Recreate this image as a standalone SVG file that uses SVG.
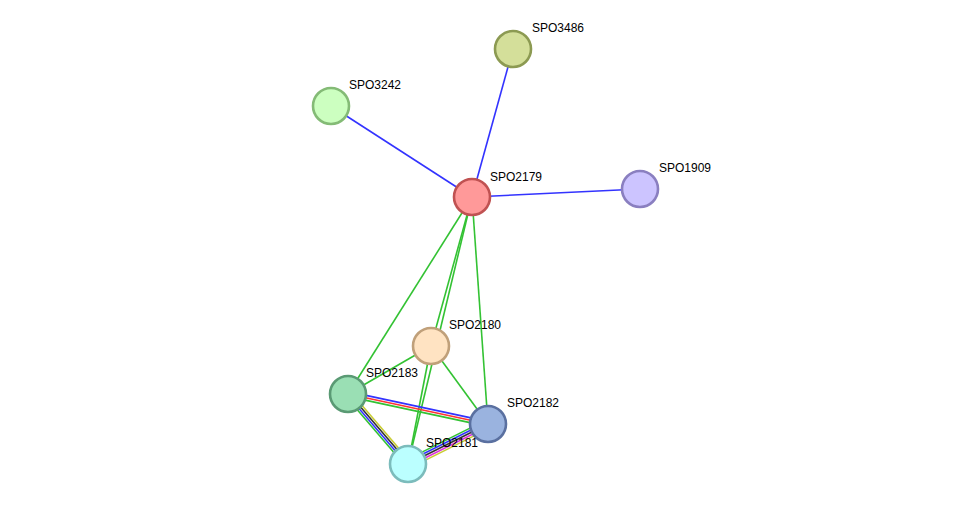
<svg xmlns="http://www.w3.org/2000/svg" width="976" height="510" viewBox="0 0 976 510">
<style>
.e{fill:none;stroke-width:1.6}
.g{stroke:#33c233}.b{stroke:#3333ff}.r{stroke:#ff3333}.k{stroke:#333333}.y{stroke:#c8cc33}.m{stroke:#dd33dd}
.n circle{stroke-width:2.6}
.n text{font-family:"Liberation Sans",Arial,sans-serif;font-size:12px;fill:#000}
</style>
<rect width="976" height="510" fill="#ffffff"/>
<g id="edges">
<line class="e b" x1="472" y1="197" x2="513" y2="49"/>
<line class="e b" x1="472" y1="197" x2="331" y2="106"/>
<line class="e b" x1="472" y1="197" x2="640" y2="189"/>
<line class="e g" x1="472" y1="197" x2="348" y2="394"/>
<line class="e g" x1="472" y1="197" x2="431" y2="346"/>
<line class="e g" x1="472" y1="197" x2="408" y2="464"/>
<line class="e g" x1="472" y1="197" x2="488" y2="424"/>
<line class="e g" x1="431" y1="346" x2="348" y2="394"/>
<line class="e g" x1="431" y1="346" x2="488" y2="424"/>
<line class="e g" x1="431" y1="346" x2="408" y2="464"/>
<line class="e b" x1="348.5" y1="391.6" x2="488.5" y2="421.6"/>
<line class="e r" x1="348" y1="394" x2="488" y2="424"/>
<line class="e g" x1="347.5" y1="396.4" x2="487.5" y2="426.4"/>
<line class="e g" x1="345.5" y1="396.1" x2="405.5" y2="466.1"/>
<line class="e b" x1="347.2" y1="394.7" x2="407.2" y2="464.7"/>
<line class="e k" x1="348.8" y1="393.3" x2="408.8" y2="463.3"/>
<line class="e y" x1="350.5" y1="391.9" x2="410.5" y2="461.9"/>
<line class="e g" x1="406.0" y1="460.1" x2="486.0" y2="420.1"/>
<line class="e b" x1="407.0" y1="462.0" x2="487.0" y2="422.0"/>
<line class="e k" x1="408" y1="464" x2="488" y2="424"/>
<line class="e m" x1="409.0" y1="466.0" x2="489.0" y2="426.0"/>
<line class="e y" x1="410.0" y1="467.9" x2="490.0" y2="427.9"/>
</g>
<g id="SPO2179" class="n"><circle cx="472" cy="197" r="18" fill="#ff9999" stroke="#c05252"/><text x="490" y="181">SPO2179</text></g>
<g id="SPO3486" class="n"><circle cx="513" cy="49" r="18" fill="#d4df9a" stroke="#8c9a52"/><text x="532" y="32">SPO3486</text></g>
<g id="SPO3242" class="n"><circle cx="331" cy="106" r="18" fill="#ccffc0" stroke="#84bb76"/><text x="349" y="89">SPO3242</text></g>
<g id="SPO1909" class="n"><circle cx="640" cy="189" r="18" fill="#ccc4ff" stroke="#8a7fc0"/><text x="659" y="172">SPO1909</text></g>
<g id="SPO2180" class="n"><circle cx="431" cy="346" r="18" fill="#ffe3c2" stroke="#c0a07a"/><text x="449" y="329">SPO2180</text></g>
<g id="SPO2183" class="n"><circle cx="348" cy="394" r="18" fill="#9adfb4" stroke="#5a9a74"/><text x="366" y="377">SPO2183</text></g>
<g id="SPO2182" class="n"><circle cx="488" cy="424" r="18" fill="#9ab3df" stroke="#5a70a0"/><text x="507" y="407">SPO2182</text></g>
<g id="SPO2181" class="n"><circle cx="408" cy="464" r="18" fill="#bbffff" stroke="#7cbcbc"/><text x="426" y="447">SPO2181</text></g>
</svg>
